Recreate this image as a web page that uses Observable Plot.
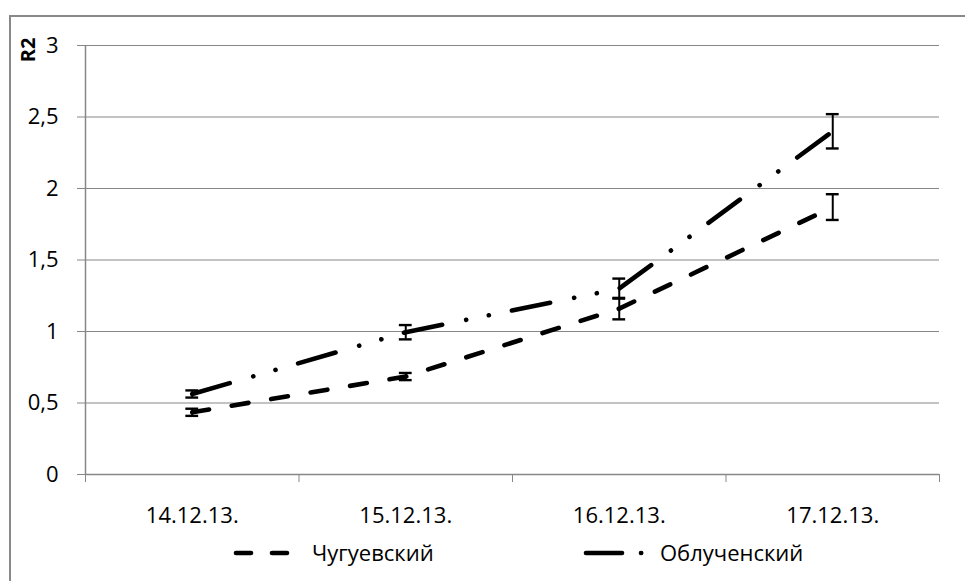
<!DOCTYPE html>
<html>
<head>
<meta charset="utf-8">
<script src="https://cdn.jsdelivr.net/npm/d3@7"></script>
<script src="https://cdn.jsdelivr.net/npm/@observablehq/plot@0.6"></script>
<style>
  html, body { margin: 0; padding: 0; background: #fff; }
  #wrap { position: relative; width: 965px; height: 581px; overflow: hidden; font-family: "Open Sans", sans-serif; }
  #frame { position: absolute; left: 9px; top: 15px; width: 1200px; height: 800px; border-left: 2px solid #898989; border-top: 2px solid #898989; }
  #chart { position: absolute; left: 0; top: 0; }
  #ylabel { position: absolute; left: 28px; top: 50px; transform: translate(-50%, -50%) rotate(-90deg); font-weight: bold; font-size: 20px; line-height: 1; }
  #legend { position: absolute; left: 0; top: 0; }
</style>
</head>
<body>
<div id="wrap">
  <div id="frame"></div>
  <div id="chart"></div>
  <div id="ylabel">R2</div>
  <svg id="legend" width="965" height="581"></svg>
</div>
<script>
const categories = ["14.12.13.", "15.12.13.", "16.12.13.", "17.12.13."];
const seriesNames = ["Чугуевский", "Облученский"];
const chugValues = [0.435, 0.685, 1.16, 1.87];
const chugErrors = [0.025, 0.025, 0.075, 0.09];
const oblValues = [0.563, 0.995, 1.30, 2.40];
const oblErrors = [0.025, 0.05, 0.07, 0.12];
const yTicks = [0, 0.5, 1, 1.5, 2, 2.5, 3];

const dashes = {
  "Чугуевский": "17,23",
  "Облученский": "39,24.5,0.1,23,0.1,23.5"
};

const data = [];
categories.forEach((c, i) => {
  data.push({series: seriesNames[0], i, value: chugValues[i], err: chugErrors[i]});
  data.push({series: seriesNames[1], i, value: oblValues[i], err: oblErrors[i]});
});

const grid = "#878787";
const fmt = d => String(d).replace(".", ",");
const capHalf = 0.03;

const marks = [
  Plot.gridY(yTicks.filter(d => d > 0), {stroke: grid, strokeOpacity: 1, strokeWidth: 1.2}),
  Plot.ruleY([0], {stroke: grid, strokeWidth: 1.5}),
  Plot.ruleX([0], {stroke: grid, strokeWidth: 1.5}),
  Plot.axisY({ticks: yTicks, tickSize: 8, tickPadding: 19, stroke: grid, tickFormat: fmt, label: null}),
  Plot.axisX({ticks: d3.range(categories.length + 1), tickSize: 8, stroke: grid, tickFormat: () => "", label: null}),
  Plot.axisX({ticks: categories.map((c, i) => i + 0.5), tickSize: 0, tickPadding: 33, tickFormat: d => categories[Math.floor(d)], label: null})
];
for (const s of seriesNames) {
  const rows = data.filter(d => d.series === s);
  marks.push(Plot.line(rows, {x: d => d.i + 0.5, y: "value", stroke: "black", strokeWidth: 4.6, strokeLinecap: "round", strokeDasharray: dashes[s]}));
}
marks.push(
  Plot.ruleX(data, {x: d => d.i + 0.5, y1: d => d.value - d.err, y2: d => d.value + d.err, stroke: "black", strokeWidth: 2}),
  Plot.ruleY(data, {y: d => d.value - d.err, x1: d => d.i + 0.5 - capHalf, x2: d => d.i + 0.5 + capHalf, stroke: "black", strokeWidth: 2.4}),
  Plot.ruleY(data, {y: d => d.value + d.err, x1: d => d.i + 0.5 - capHalf, x2: d => d.i + 0.5 + capHalf, stroke: "black", strokeWidth: 2.4})
);

const chart = Plot.plot({
  width: 965,
  height: 540,
  marginTop: 45,
  marginLeft: 85,
  marginRight: 26,
  marginBottom: 66,
  x: {domain: [0, categories.length], axis: null},
  y: {domain: [0, 3], axis: null},
  style: {fontFamily: "Open Sans", fontSize: "22px", color: "black", background: "transparent", overflow: "visible"},
  marks
});
document.getElementById("chart").append(chart);

// Legend
const lg = d3.select("#legend");
const ly = 553;
const items = [
  {name: seriesNames[0], segs: [[236, 251], [272, 287]], textX: 312},
  {name: seriesNames[1], segs: [[586, 622], [641, 641.2]], textX: 660}
];
items.forEach(it => {
  it.segs.forEach(([a, b]) => {
    lg.append("line").attr("x1", a).attr("x2", b).attr("y1", ly).attr("y2", ly)
      .attr("stroke", "black").attr("stroke-width", 4.6).attr("stroke-linecap", "round");
  });
  lg.append("text").attr("x", it.textX).attr("y", ly).attr("dy", "0.35em")
    .attr("font-family", "Open Sans").attr("font-size", 22).text(it.name);
});
</script>
</body>
</html>
